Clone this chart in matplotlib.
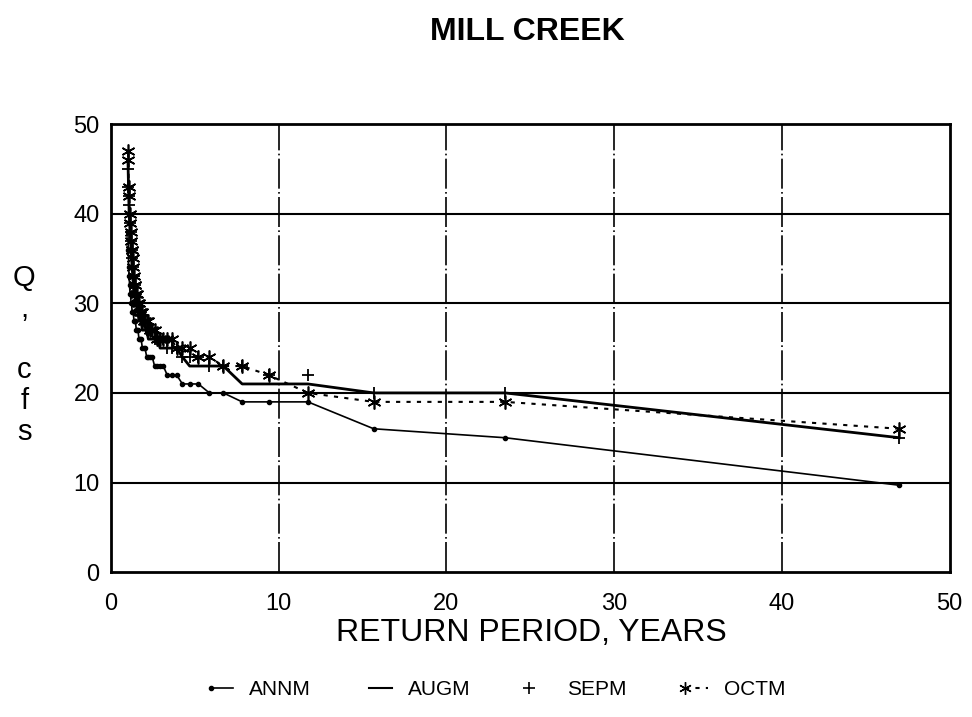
import matplotlib
matplotlib.use("Agg")
import matplotlib.pyplot as plt
from matplotlib.lines import Line2D
from matplotlib.legend_handler import HandlerLine2D

plt.rcParams['font.family'] = ['Liberation Sans', 'DejaVu Sans']

# Return period (years) for each ranked value
return_period = [47.0, 23.5, 15.67, 11.75, 9.4, 7.83, 6.71, 5.875, 5.22, 4.7,
                 4.27, 3.92, 3.62, 3.36, 3.13, 2.94, 2.76, 2.61, 2.47, 2.35,
                 2.24, 2.14, 2.04, 1.96, 1.88, 1.81, 1.74, 1.68, 1.62, 1.57,
                 1.52, 1.47, 1.42, 1.38, 1.34, 1.31, 1.27, 1.24, 1.21, 1.175,
                 1.146, 1.119, 1.093, 1.068, 1.044, 1.022]

annm = [9.7, 15, 16, 19, 19, 19, 20, 20, 21, 21,
        21, 22, 22, 22, 23, 23, 23, 23, 24, 24,
        24, 24, 25, 25, 25, 26, 26, 26, 27, 27,
        27, 28, 28, 28, 29, 29, 29, 30, 30, 31,
        31, 32, 33, 34, 36, 38]

augm = [15, 20, 20, 21, 21, 21, 23, 23, 23, 23,
        24, 25, 25, 25, 25, 25, 26, 26, 26, 26,
        26, 27, 27, 27, 27, 28, 28, 28, 29, 29,
        30, 30, 31, 31, 32, 33, 34, 35, 36, 37,
        38, 39, 40, 42, 44, 46]

sepm = [15, 20, 20, 22, 22, 23, 23, 23, 24, 24,
        24, 25, 25, 25, 26, 26, 26, 26, 27, 27,
        27, 27, 28, 28, 28, 29, 29, 29, 30, 30,
        31, 31, 32, 33, 33, 34, 35, 36, 37, 38,
        39, 40, 41, 42, 43, 45]

octm = [16, 19, 19, 20, 22, 23, 23, 24, 24, 25,
        25, 25, 26, 26, 26, 26, 26, 27, 27, 27,
        28, 28, 28, 28, 29, 29, 29, 30, 30, 31,
        31, 32, 32, 33, 34, 35, 36, 36, 37, 38,
        39, 40, 42, 43, 46, 47]

series_names = ["ANNM", "AUGM", "SEPM", "OCTM"]
x_ticks = [0, 10, 20, 30, 40, 50]
y_ticks = [0, 10, 20, 30, 40, 50]


class LeftMarkerHandler(HandlerLine2D):
    """Legend handler that draws the marker only at the left end."""
    def create_artists(self, legend, orig_handle, xdescent, ydescent,
                       width, height, fontsize, trans):
        arts = super().create_artists(legend, orig_handle, xdescent, ydescent,
                                      width, height, fontsize, trans)
        for a in arts:
            if isinstance(a, Line2D):
                x, y = a.get_data()
                if len(x) > 1:
                    a.set_markevery([0])
        return arts


fig = plt.figure(figsize=(9.72, 7.17), dpi=100)
ax = fig.add_axes([0.114, 0.202, 0.863, 0.625])

ax.set_xlim(0, 50)
ax.set_ylim(0, 50)
ax.set_xticks(x_ticks)
ax.set_yticks(y_ticks)
ax.tick_params(axis='both', labelsize=17, length=0)
ax.tick_params(axis='x', pad=15)
ax.tick_params(axis='y', pad=8)

for y in y_ticks[1:-1]:
    ax.axhline(y, color='black', lw=1.5, zorder=1)
for x in x_ticks[1:-1]:
    ax.axvline(x, color='black', lw=1.2, ls=(0, (18, 2, 1, 2)), zorder=1)
for s in ax.spines.values():
    s.set_linewidth(2)

ax.plot(return_period, annm, color='black', lw=1.2, marker='o', ms=3,
        zorder=3)
ax.plot(return_period, augm, color='black', lw=2.0, zorder=3)
ax.plot(return_period, sepm, color='black', lw=0, marker='+', ms=9,
        mew=1.3, zorder=4)
ax.plot(return_period, octm, color='black', lw=1.5, ls=(0, (2, 3)),
        marker=(6, 2, 0), ms=10, mew=1.2, zorder=4)

fig.text(0.543, 0.944, "MILL CREEK", ha='center', va='baseline',
         fontsize=23, fontweight='bold')
fig.text(0.025, 0.505, "Q\n,\n\nc\nf\ns", ha='center', va='center',
         fontsize=21, linespacing=1.12)
fig.text(0.547, 0.106, "RETURN PERIOD, YEARS", ha='center', va='baseline',
         fontsize=23)

handles = [
    Line2D([], [], color='black', lw=1.2, marker='o', ms=3),
    Line2D([], [], color='black', lw=1.5),
    Line2D([], [], color='black', lw=0, marker='+', ms=9, mew=1.2),
    Line2D([], [], color='black', lw=1.5, ls=(0, (2, 3)), marker=(6, 2, 0),
           ms=9),
]
fig.legend(handles, series_names, loc='center', bbox_to_anchor=(0.509, 0.038),
           ncol=4, frameon=False, fontsize=15, handlelength=1.7,
           columnspacing=2.5, handletextpad=0.45,
           handler_map={Line2D: LeftMarkerHandler(numpoints=2)})

fig.savefig("out.png", dpi=100)
